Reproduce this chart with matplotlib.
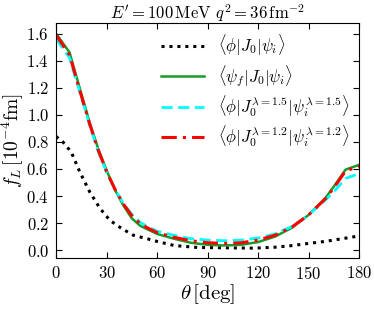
import matplotlib
matplotlib.use('Agg')
import matplotlib.pyplot as plt
import numpy as np

plt.rcParams['font.family'] = 'serif'
plt.rcParams['font.serif'] = ['cmr10']
plt.rcParams['mathtext.fontset'] = 'cm'
plt.rcParams['axes.formatter.use_mathtext'] = True

# angle grid (deg)
theta = [0, 8, 15, 20, 25, 30, 35, 40, 45, 50, 55, 60, 70, 80, 90,
         100, 110, 120, 130, 140, 150, 160, 165, 172, 180]

# <psi_f|J0|psi_i>
f_full = [1.60, 1.46, 1.155, 0.94, 0.75, 0.59, 0.445, 0.33, 0.235, 0.18, 0.15, 0.12,
          0.085, 0.055, 0.04, 0.035, 0.04, 0.06, 0.10, 0.165, 0.26, 0.385, 0.47, 0.595, 0.63]
# lambda = 1.2
f_l12 = [1.59, 1.44, 1.14, 0.93, 0.74, 0.58, 0.45, 0.34, 0.255, 0.195, 0.16, 0.13,
         0.095, 0.07, 0.055, 0.05, 0.055, 0.075, 0.11, 0.17, 0.26, 0.38, 0.46, 0.585, 0.62]
# lambda = 1.5
f_l15 = [1.56, 1.42, 1.13, 0.92, 0.73, 0.575, 0.45, 0.345, 0.265, 0.205, 0.17, 0.14,
         0.11, 0.085, 0.075, 0.07, 0.075, 0.09, 0.12, 0.175, 0.26, 0.37, 0.43, 0.53, 0.565]

# <phi|J0|psi_i>
theta_pw = [0, 4, 9, 14, 20, 26, 32, 39, 46, 54, 60, 70, 84, 100, 117,
            130, 141, 150, 160, 170, 180]
f_pw = [0.84, 0.80, 0.725, 0.58, 0.43, 0.31, 0.22, 0.16, 0.11, 0.085, 0.065, 0.035,
        0.02, 0.018, 0.015, 0.022, 0.035, 0.05, 0.065, 0.085, 0.105]

fig = plt.figure(figsize=(3.74, 3.09), dpi=100)
ax = fig.add_axes([0.15, 0.164, 0.81, 0.7625])

ax.plot(theta_pw, f_pw, color='black', linestyle=(0, (1, 1.6)), linewidth=2.2,
        label=r'$\langle\phi|J_0|\psi_i\rangle$')
ax.plot(theta, f_full, color='#1a9a2a', linestyle='-', linewidth=1.8,
        label=r'$\langle\psi_f|J_0|\psi_i\rangle$')
ax.plot(theta, f_l15, color='cyan', linestyle=(0, (4, 2)), linewidth=2.0,
        label=r'$\langle\phi|J_0^{\lambda=1.5}|\psi_i^{\lambda=1.5}\rangle$')
ax.plot(theta, f_l12, color='red', linestyle=(0, (5, 2, 1, 2)), linewidth=2.2,
        label=r'$\langle\phi|J_0^{\lambda=1.2}|\psi_i^{\lambda=1.2}\rangle$')

ax.set_xlim(0, 180)
ax.set_ylim(-0.06, 1.68)
ax.set_xticks(np.arange(0, 181, 30))
ax.set_yticks(np.arange(0, 1.61, 0.2))
ax.tick_params(direction='in', top=True, right=True, length=4, labelsize=12, pad=5)

ax.set_xlabel(r'$\theta\,[\mathrm{deg}]$', fontsize=15, labelpad=0)
ax.set_ylabel(r'$f_L\,[10^{-4}\mathrm{fm}]$', fontsize=14, labelpad=0)
ax.set_title(r"$E' =$100$\,\mathrm{MeV}$ $q^2 =$36$\,\mathrm{fm}^{-2}$", fontsize=12, pad=3)

ax.legend(loc='upper right', frameon=False, fontsize=12, handlelength=2.6,
          handletextpad=0.8, labelspacing=0.3, borderaxespad=0.2)

fig.savefig('out.png', dpi=100)
